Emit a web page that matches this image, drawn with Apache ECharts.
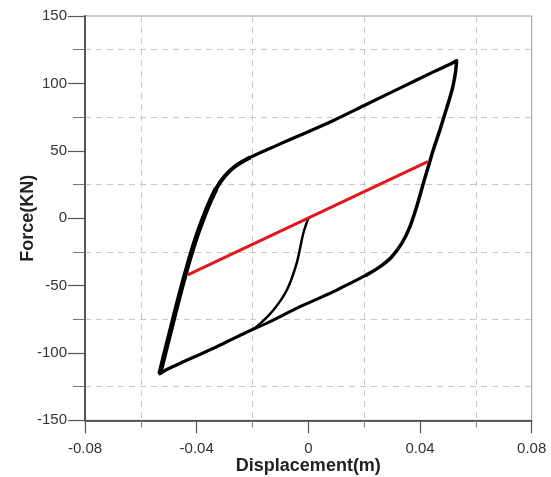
<!DOCTYPE html>
<html><head><meta charset="utf-8">
<script src="https://cdn.jsdelivr.net/npm/echarts@6/dist/echarts.min.js"></script>
<style>html,body{margin:0;padding:0;background:#fff}#c{width:551px;height:477px}</style>
</head><body><div id="c"></div>
<script>
// Outer hysteresis loop, split into branches
const leftBranch = [[-0.0532,-115.5],[-0.0510,-97],[-0.0488,-79],[-0.0466,-61],[-0.0444,-44],[-0.0422,-28],[-0.0400,-13.5],[-0.0378,-1],[-0.0356,10.5],[-0.0330,22]];
const bendBranch = [[-0.0378,-1],[-0.0356,10.5],[-0.0330,22],[-0.0300,31],[-0.0262,38.5],[-0.0209,45]];
const upperBranch = [[-0.0378,-1],[-0.0356,10.5],[-0.0330,22],[-0.0300,31],[-0.0262,38.5],[-0.0209,45],[-0.0113,54],[-0.0030,61.5],[0.0090,72.5],[0.0209,84.5],[0.0328,96.5],[0.0448,108.5],[0.0505,114],[0.0531,116.8]];
const rightBranch = [[0.0531,116.8],[0.0527,108],[0.0518,98],[0.0505,88],[0.0490,78],[0.0469,64],[0.0448,51],[0.0430,38.5],[0.0412,25.9],[0.0388,8.5],[0.0364,-6.3],[0.0335,-18.6],[0.0299,-28.6],[0.0257,-36],[0.0209,-42.1]];
const lowerBranch = [[0.0209,-42.1],[0.0090,-54.5],[-0.0030,-65.7],[-0.0149,-78],[-0.0209,-83.5],[-0.0269,-89.3],[-0.0328,-95.3],[-0.0388,-101],[-0.0448,-106.5],[-0.0505,-112],[-0.0532,-115.5]];
// Initial loading curve
const initialCurve = [[0,0],[-0.0018,-11.2],[-0.0042,-33.5],[-0.0077,-53.3],[-0.0125,-68.1],[-0.0185,-80.5],[-0.0215,-84.2],[-0.0269,-89.6],[-0.0328,-95.6],[-0.0388,-101.2],[-0.0448,-106.8],[-0.0505,-112.3],[-0.0532,-115.5]];
// Red secant line
const secantLine = [[-0.0432,-42.1],[0.0428,41.9]];
const xTicks = [-0.08,-0.04,0,0.04,0.08];
const yTicks = [-150,-100,-50,0,50,100,150];

const chart = echarts.init(document.getElementById('c'), null, {renderer:'canvas'});
function blk(data, w, cap){
  return {type:'line', data:data, smooth:0.3, symbol:'none', lineStyle:{color:'#000', width:w, cap:cap||'round', join:'round'}, z:3, animation:false};
}
chart.setOption({
  animation:false,
  grid:{left:85, right:19.3, top:16, bottom:56.7, containLabel:false, outerBoundsMode:'none', show:true, borderColor:'#999', borderWidth:1},
  xAxis:{type:'value', min:xTicks[0], max:xTicks[xTicks.length-1], interval:0.04,
    name:'Displacement(m)', nameLocation:'middle', nameGap:37, nameMoveOverlap:false,
    nameTextStyle:{fontFamily:'Liberation Sans', fontWeight:'bold', fontSize:18, color:'#222'},
    axisLine:{show:true, onZero:false, lineStyle:{color:'#333', width:1.5}},
    axisTick:{show:true, inside:false, length:13, lineStyle:{color:'#555', width:1.2}},
    minorTick:{show:true, splitNumber:2, length:7, lineStyle:{color:'#777', width:1}},
    axisLabel:{margin:21, fontFamily:'Liberation Sans', fontSize:15, color:'#333', formatter:v=>String(Math.round(v*100)/100)},
    splitLine:{show:false},
    minorSplitLine:{show:true, lineStyle:{color:'#c8c8c8', type:[6,5], width:1}}
  },
  yAxis:{type:'value', min:yTicks[0], max:yTicks[yTicks.length-1], interval:50,
    name:'Force(KN)', nameLocation:'middle', nameGap:48, nameMoveOverlap:false,
    nameTextStyle:{fontFamily:'Liberation Sans', fontWeight:'bold', fontSize:18, color:'#222'},
    axisLine:{show:true, onZero:false, lineStyle:{color:'#555', width:2}},
    axisTick:{show:true, inside:false, length:17, lineStyle:{color:'#555', width:1.2}},
    minorTick:{show:true, splitNumber:2, length:12, lineStyle:{color:'#777', width:1}},
    axisLabel:{margin:18, fontFamily:'Liberation Sans', fontSize:15, color:'#333'},
    splitLine:{show:false},
    minorSplitLine:{show:true, lineStyle:{color:'#c8c8c8', type:[6,5], width:1}}
  },
  series:[
    blk(initialCurve, 2.5),
    blk(lowerBranch, 3),
    blk(rightBranch, 3.5),
    blk(upperBranch, 3.2),
    blk(bendBranch, 4, 'butt'),
    blk(leftBranch, 5, 'butt'),
    {type:'line', data:secantLine, symbol:'none', lineStyle:{color:'#e3161c', width:3}, z:4, animation:false}
  ]
});
</script></body></html>
